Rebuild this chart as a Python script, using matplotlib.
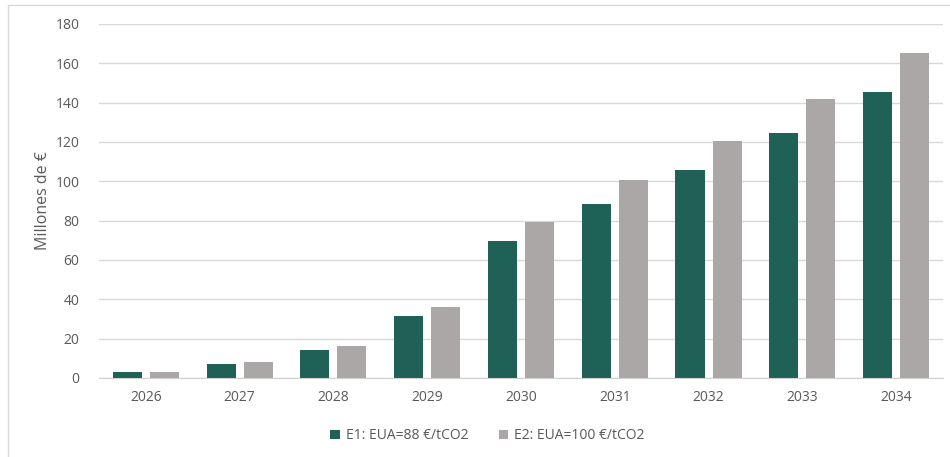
import matplotlib
matplotlib.use("Agg")
import matplotlib.pyplot as plt
import numpy as np
from matplotlib.patches import Rectangle

plt.rcParams['font.family'] = ['Open Sans', 'DejaVu Sans']

years = ["2026", "2027", "2028", "2029", "2030", "2031", "2032", "2033", "2034"]
e1_values = [2.8, 7.1, 14.2, 31.5, 69.8, 88.5, 105.8, 124.8, 145.6]
e2_values = [3.2, 8.0, 16.4, 36.2, 79.3, 100.7, 120.5, 141.9, 165.1]
series_labels = ["E1: EUA=88 €/tCO2", "E2: EUA=100 €/tCO2"]
y_ticks = [0, 20, 40, 60, 80, 100, 120, 140, 160, 180]

teal = "#1f6157"
grey = "#aba7a7"
text_col = "#595959"

fig = plt.figure(figsize=(9.5, 4.57), dpi=100)
ax = fig.add_axes([0.1042, 0.1729, 0.8884, 0.7746])

x = np.arange(len(years))
w = 0.31
gap = 0.085
ax.bar(x - (w + gap) / 2, e1_values, width=w, color=teal, label=series_labels[0], zorder=3)
ax.bar(x + (w + gap) / 2, e2_values, width=w, color=grey, label=series_labels[1], zorder=3)

ax.set_xlim(-0.5, len(years) - 0.5)
ax.set_ylim(0, 180)
ax.set_yticks(y_ticks)
ax.set_xticks(x)
ax.set_xticklabels(years)
ax.tick_params(axis='both', length=0, colors=text_col, labelsize=10)
ax.tick_params(axis='y', pad=14)
ax.tick_params(axis='x', pad=9)
ax.grid(axis='y', color="#d9d9d9", linewidth=1, zorder=0)
for side in ["top", "right", "left"]:
    ax.spines[side].set_visible(False)
ax.spines["bottom"].set_color("#d0d0d0")
ax.spines["bottom"].set_zorder(4)

ax.set_ylabel("Millones de €", color=text_col, fontsize=11.5, labelpad=3)

fig.legend(loc="center", bbox_to_anchor=(0.513, 0.046), ncol=2, frameon=False,
           fontsize=10, labelcolor=text_col, handlelength=0.7, handleheight=0.7,
           handletextpad=0.4, columnspacing=2.2)

# light frame around the chart area
fig.patches.append(Rectangle((8 / 950, -0.1), 1.2, 1.1 - 5 / 457, transform=fig.transFigure,
                             fill=False, edgecolor="#d9d9d9", linewidth=1))

fig.savefig("out.png", dpi=100)
